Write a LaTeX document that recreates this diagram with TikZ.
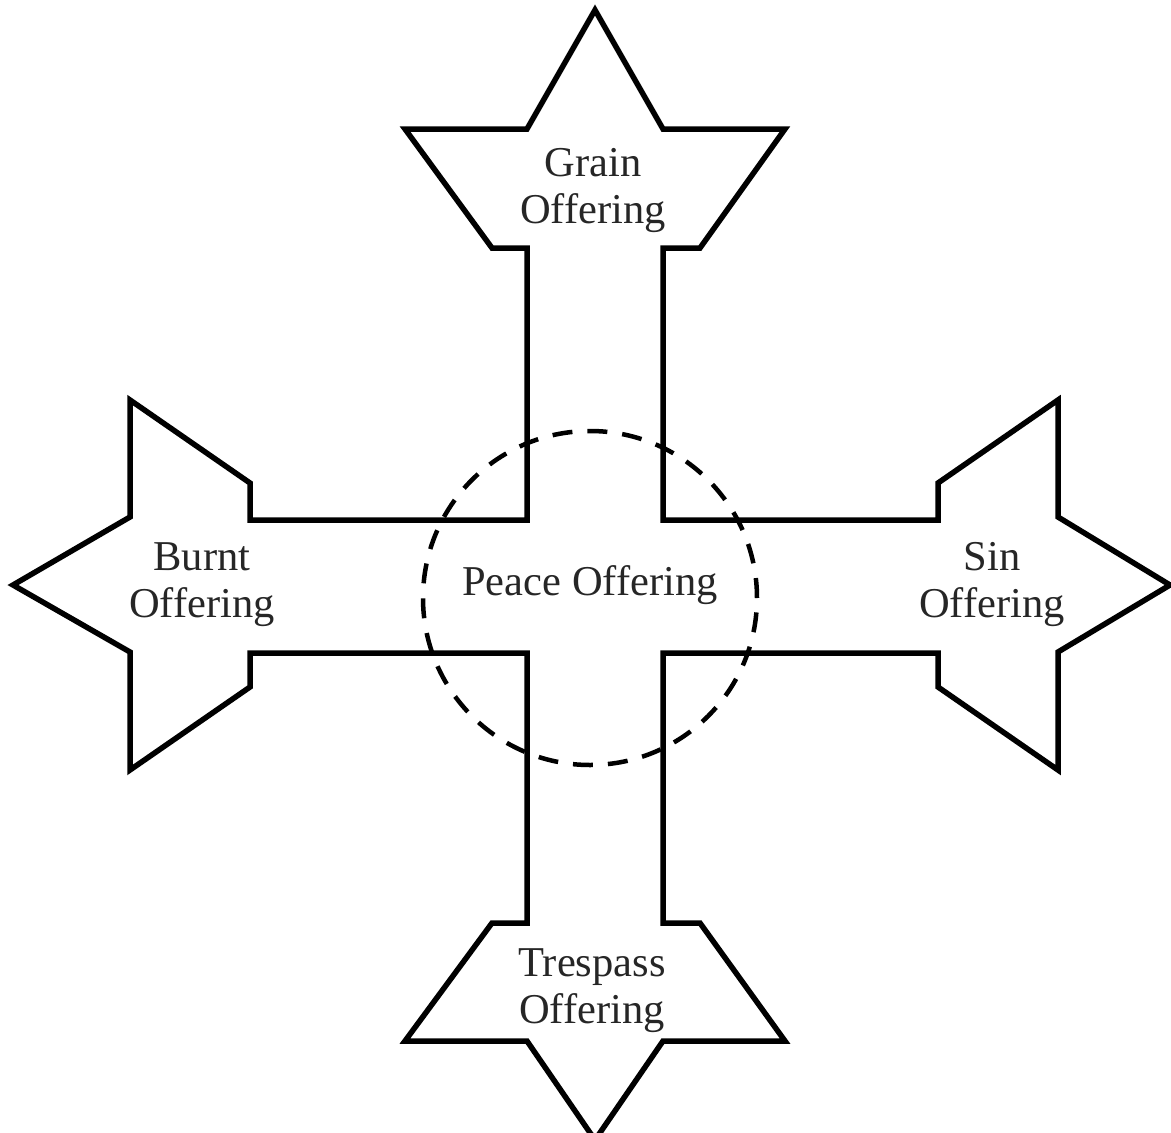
\documentclass[tikz,border=0pt]{standalone}
\usepackage{fontspec}
\setmainfont{Liberation Serif}
\begin{document}
\begin{tikzpicture}[x=1pt,y=-1pt,
  outline/.style={line width=5.5pt, line join=miter, black},
  ring/.style={line width=4.5pt, dash pattern=on 20pt off 15pt, black},
  label/.style={align=center, inner sep=0pt, font=\fontsize{42.5}{47}\selectfont, text=black!85}]
\fill[white] (0,0) rectangle (1171,1133);
\useasboundingbox (0,0) rectangle (1171,1133);
\begin{scope}
\clip (0,0) rectangle (1171,1133);
\draw[outline]
  (595,10) -- (663,129) -- (785,129) -- (700,248) -- (663,248) -- (663,520)
  -- (938,520) -- (938,483) -- (1058,400) -- (1058,517) -- (1170,585) -- (1058,652) -- (1058,770) -- (938,687) -- (938,653) -- (663,653)
  -- (663,923) -- (700,923) -- (785,1041) -- (663,1041) -- (595,1140) -- (527,1041) -- (405,1041) -- (492,923) -- (527,923) -- (527,653)
  -- (250,653) -- (250,687) -- (130,770) -- (130,652) -- (13,585) -- (130,517) -- (130,400) -- (250,483) -- (250,520) -- (527,520)
  -- (527,248) -- (492,248) -- (405,129) -- (527,129) -- cycle;
\end{scope}
\node[circle, ring, draw, minimum size=334pt, inner sep=0pt] (peacering) at (590,598) {};
\node[label] (peace) at (590,585) {Peace Offering};
\node[label] (grain) at (593,191) {Grain\\Offering};
\node[label] (burnt) at (202,585) {Burnt\\Offering};
\node[label] (sin) at (992,585) {Sin\\Offering};
\node[label] (trespass) at (592,991) {Trespass\\Offering};
\end{tikzpicture}
\end{document}
